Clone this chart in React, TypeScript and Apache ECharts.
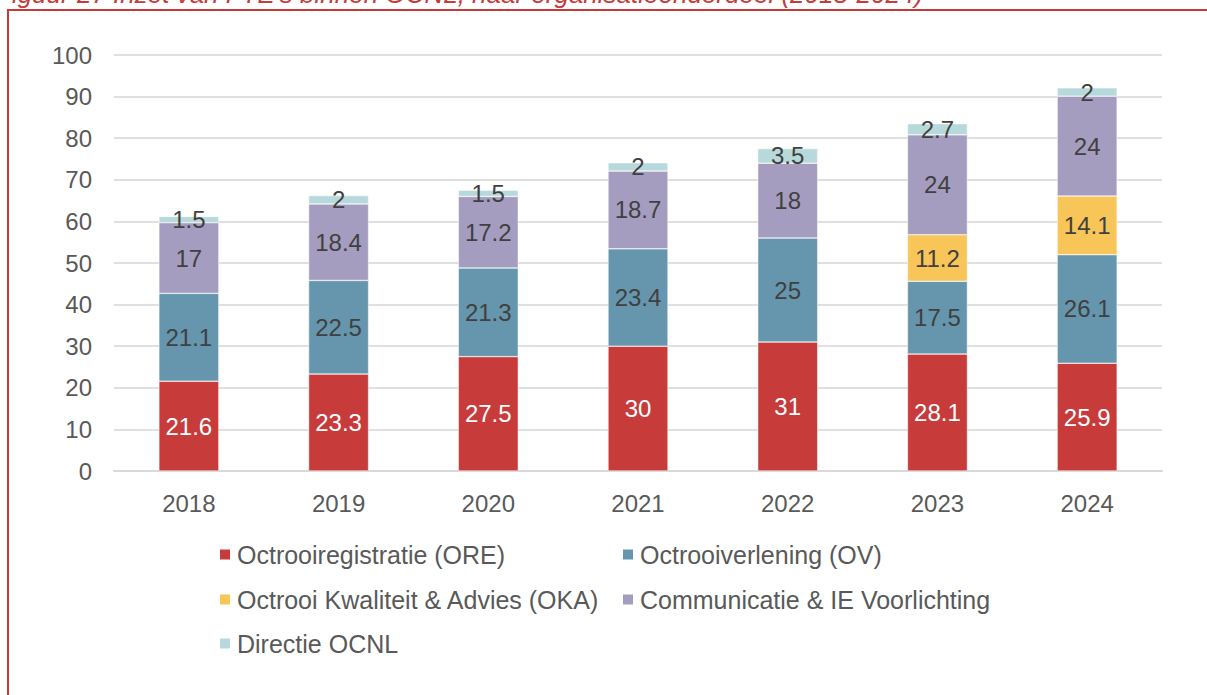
import React, { useEffect, useRef } from "react";
import * as echarts from "echarts";

const years = ["2018", "2019", "2020", "2021", "2022", "2023", "2024"];
const ore = [21.6, 23.3, 27.5, 30, 31, 28.1, 25.9];
const ov = [21.1, 22.5, 21.3, 23.4, 25, 17.5, 26.1];
const oka = [null, null, null, null, null, 11.2, 14.1];
const comm = [17, 18.4, 17.2, 18.7, 18, 24, 24];
const directie = [1.5, 2, 1.5, 2, 3.5, 2.7, 2];

const seriesNames = [
  "Octrooiregistratie (ORE)",
  "Octrooiverlening (OV)",
  "Octrooi Kwaliteit & Advies (OKA)",
  "Communicatie & IE Voorlichting",
  "Directie OCNL",
];
const seriesData = [ore, ov, oka, comm, directie];
const colors = ["#C73B3B", "#6596AD", "#F7C558", "#A59DC0", "#B8D9DB"];
const labelColors = ["#FFFFFF", "#404040", "#404040", "#404040", "#404040"];

const titleText =
  "Figuur 27 Inzet van FTE's binnen OCNL, naar organisatieonderdeel (2018-2024)";

const FONT = "'Liberation Sans', Arial, sans-serif";

export default function App() {
  const ref = useRef<HTMLDivElement>(null);
  useEffect(() => {
    if (!ref.current) return;
    const chart = echarts.init(ref.current, undefined, { renderer: "svg" });
    const legendPos = [
      { left: 218, top: 542 },
      { left: 621, top: 542 },
      { left: 218, top: 587 },
      { left: 621, top: 587 },
      { left: 218, top: 631 },
    ];
    chart.setOption({
      animation: false,
      backgroundColor: "#FFFFFF",
      textStyle: { fontFamily: FONT },
      grid: { left: 114, right: 45, top: 55, bottom: 224, containLabel: false },
      legend: seriesNames.map((n, i) => ({
        data: [n],
        left: legendPos[i].left,
        top: legendPos[i].top,
        padding: 0,
        itemWidth: 12,
        itemHeight: 12,
        icon: "rect",
        selectedMode: false,
        textStyle: {
          color: "#595959",
          fontSize: 25,
          fontFamily: FONT,
          padding: [0, 0, 0, 1],
          lineHeight: 25,
        },
      })),
      xAxis: {
        type: "category",
        data: years,
        axisTick: { show: false },
        axisLine: { lineStyle: { color: "#D9D9D9", width: 2 } },
        axisLabel: { color: "#595959", fontSize: 24, margin: 20, fontFamily: FONT },
      },
      yAxis: {
        type: "value",
        min: 0,
        max: 100,
        interval: 10,
        axisLine: { show: false },
        axisTick: { show: false },
        splitLine: { lineStyle: { color: "#D6D6D6", width: 1.5 } },
        axisLabel: { color: "#595959", fontSize: 24, margin: 22, fontFamily: FONT },
      },
      series: seriesNames.map((n, i) => ({
        name: n,
        type: "bar",
        stack: "total",
        barWidth: 60,
        data: seriesData[i],
        itemStyle: { color: colors[i], borderColor: "#FFFFFF", borderWidth: 0.5 },
        label: {
          show: true,
          position: "inside",
          color: labelColors[i],
          fontSize: 24,
          fontFamily: FONT,
          textBorderWidth: 0,
        },
      })),
      graphic: [
        {
          type: "text",
          left: -4,
          top: -19,
          silent: true,
          style: {
            text: titleText,
            font: "italic 26px " + FONT,
            fill: "#C73B3B",
          },
        },
        {
          type: "rect",
          silent: true,
          shape: { x: 8, y: 10, width: 1220, height: 720 },
          style: { fill: "none", stroke: "#C8393A", lineWidth: 2 },
        },
      ],
    });
    return () => chart.dispose();
  }, []);
  return (
    <div
      ref={ref}
      style={{ position: "absolute", left: 0, top: 0, width: 1207, height: 695 }}
    />
  );
}
